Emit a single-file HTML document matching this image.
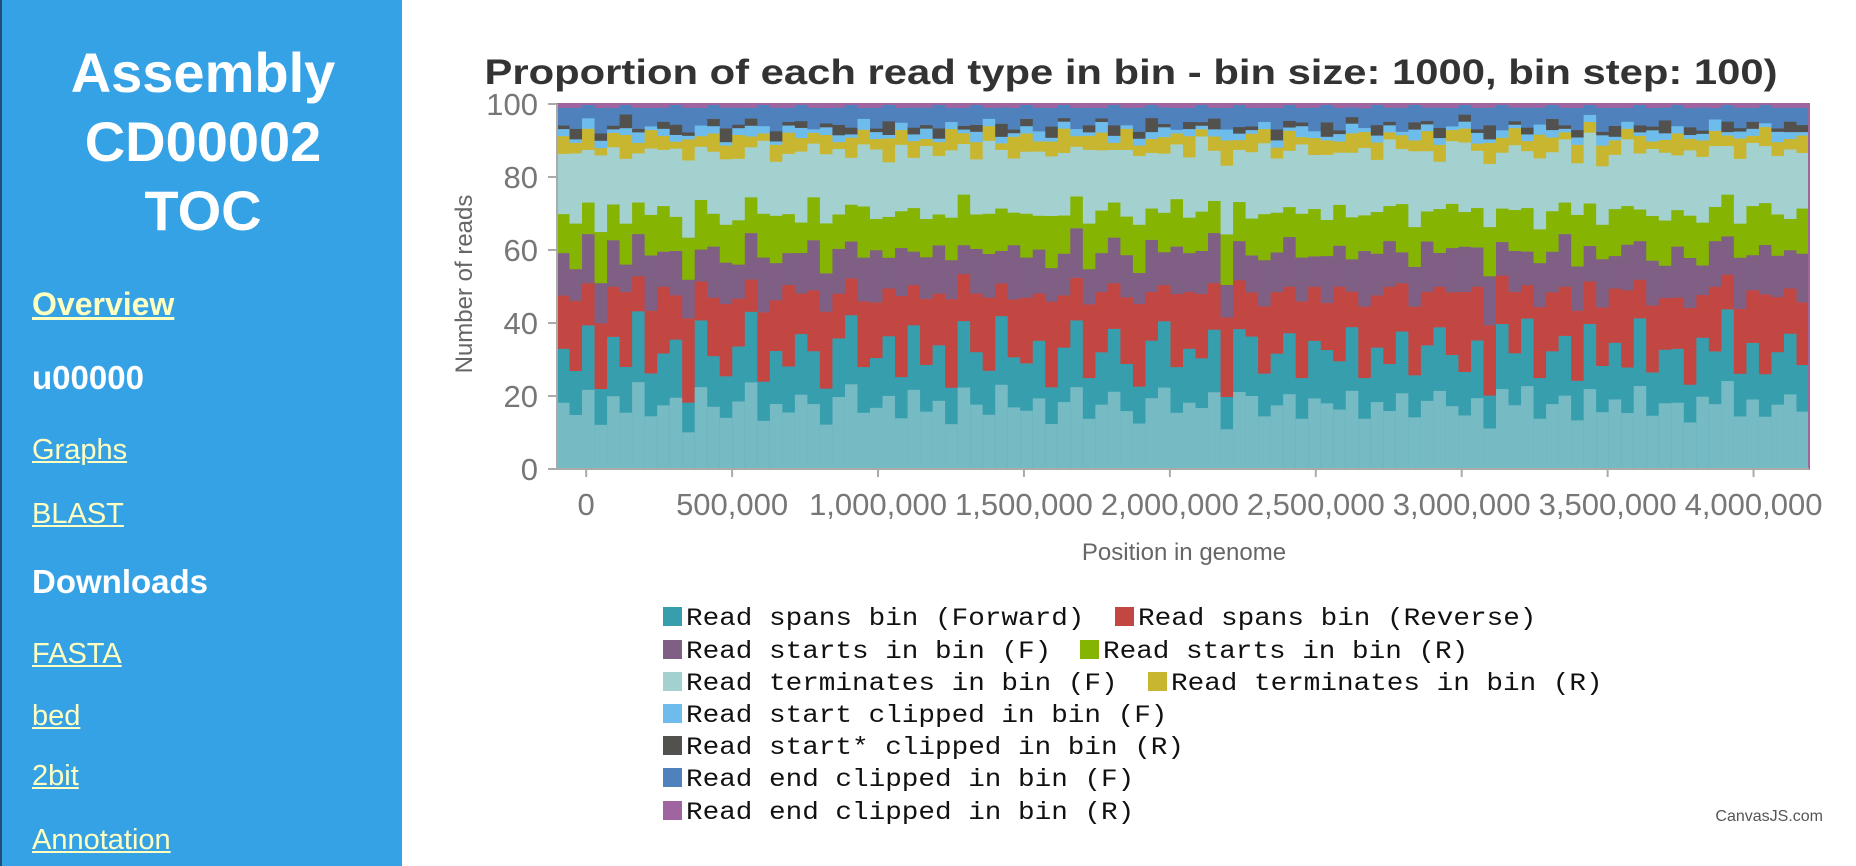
<!DOCTYPE html>
<html><head><meta charset="utf-8"><style>
html,body{margin:0;padding:0;width:1856px;height:866px;overflow:hidden;background:#fff;font-family:"Liberation Sans",sans-serif}
#side{position:absolute;left:0;top:0;width:402px;height:866px;background:#36a2e6;border-left:2px solid #1f4f78;box-sizing:border-box}
#side h1{margin:0;position:absolute;top:38px;left:0;width:402px;text-align:center;color:#fff;font-size:56px;line-height:69px;font-weight:bold}
.nav{position:absolute;left:30px;font-size:29px;color:#ffffc0;text-decoration:underline}
.hd{position:absolute;left:30px;font-size:33px;color:#fff;font-weight:bold}
svg{position:absolute;left:0;top:0}
</style></head><body>
<div id="side">
<h1>Assembly<br>CD00002<br>TOC</h1>
<a class="nav" style="top:286px;font-weight:bold;font-size:32px">Overview</a>
<div class="hd" style="top:359px">u00000</div>
<a class="nav" style="top:434px">Graphs</a>
<a class="nav" style="top:498px">BLAST</a>
<div class="hd" style="top:563px">Downloads</div>
<a class="nav" style="top:638px">FASTA</a>
<a class="nav" style="top:700px">bed</a>
<a class="nav" style="top:760px">2bit</a>
<a class="nav" style="top:824px">Annotation</a>
</div>
<svg id="chart" width="1856" height="866" xmlns="http://www.w3.org/2000/svg"></svg>
<script>
const spansF=[34,28,41,22,37,30,45,26,33,38,19,42,31,27,36,44,24,35,29,40,33,21,38,46,28,32,39,25,43,30,36,23,41,34,27,47,31,29,38,22,35,42,26,33,40,30,24,37,45,28,34,31,39,20,43,36,27,32,41,25,38,33,29,44,23,35,30,40,26,37,42,31,28,36,21,39,34,45,27,32,38,24,41,30,35,29,43,26,37,33,22,40,31,46,28,36,25,34,39,30];
const spansR=[15,20,12,18,14,22,10,17,19,13,24,11,16,21,14,9,19,15,23,12,17,20,13,11,18,16,14,22,12,19,15,25,13,17,20,10,16,18,14,23,15,12,21,17,13,19,24,14,11,20,16,18,13,22,15,12,19,17,14,21,16,13,20,11,18,15,22,14,19,16,12,17,23,15,20,13,18,10,21,16,14,19,12,17,15,22,11,18,16,14,20,13,17,10,19,15,21,16,13,18];
const startsF=[12,9,14,11,13,8,12,15,10,13,11,9,14,12,10,13,15,11,9,12,14,10,13,11,12,15,9,13,10,12,14,11,8,13,12,10,15,11,13,9,12,14,10,11,13,12,9,15,10,13,11,12,14,9,12,10,13,11,15,12,9,13,11,10,14,12,13,9,11,15,10,12,13,11,14,9,12,10,13,11,15,12,10,14,9,13,11,12,10,14,13,9,12,11,15,10,13,12,11,14];
const startsR=[11,13,9,14,10,12,9,11,13,10,12,14,9,11,13,10,12,14,11,9,12,13,10,11,14,9,12,10,13,11,9,12,14,10,11,13,9,12,10,14,11,9,13,12,10,11,14,9,12,13,10,11,9,14,12,10,13,11,9,12,14,10,11,13,9,12,10,14,11,9,13,12,10,11,14,9,12,13,10,11,9,14,12,10,13,11,9,12,14,10,11,13,9,12,10,14,11,12,9,13];
const termF=[17,20,15,21,16,19,14,18,16,20,22,15,17,19,18,14,20,16,17,21,15,18,19,14,17,20,16,18,15,21,17,19,14,16,20,18,15,17,19,16,18,14,21,17,15,19,20,16,18,15,17,21,14,19,16,18,20,15,17,19,16,18,14,20,17,15,19,16,21,18,14,17,20,16,18,15,19,17,21,16,18,14,20,17,15,19,16,18,21,15,17,20,16,14,19,18,15,17,20,16];
const termR=[5,3,6,2,4,7,3,5,4,2,6,3,5,4,7,3,2,5,6,4,3,5,2,6,4,3,7,4,5,2,4,6,3,5,4,2,6,5,3,4,7,3,4,5,2,6,3,4,5,3,6,2,4,7,3,5,4,3,6,2,5,4,3,6,4,5,2,4,3,6,5,3,4,2,6,4,5,3,7,4,2,5,3,6,4,3,5,2,4,6,3,5,4,3,6,2,5,4,3,5];
const clipStartF=[2,1,3,2,1,2,3,1,2,2,1,3,2,1,2,3,2,1,2,3,1,2,2,1,3,2,1,2,2,3,1,2,1,3,2,2,1,2,3,1,2,2,1,3,2,1,2,2,3,1,2,1,2,3,2,1,2,2,1,3,2,1,2,3,1,2,2,1,3,2,2,1,2,3,1,2,1,2,3,2,1,2,2,3,1,2,1,3,2,2,1,2,3,1,2,2,1,3,2,1];
const clipStartR=[1,3,0,2,1,4,1,0,2,3,1,0,2,4,1,2,0,3,1,2,0,1,3,2,0,1,4,0,2,1,3,0,1,2,0,4,1,2,0,3,1,0,2,1,3,0,2,4,1,0,2,1,3,0,2,1,0,3,2,1,0,4,1,2,0,3,1,0,2,1,3,0,2,1,4,0,1,2,0,3,1,2,0,1,3,0,2,1,4,0,2,1,0,3,1,2,0,1,3,2];
const clipEndF=[5,6,4,7,5,3,6,5,4,6,7,5,4,6,5,3,6,7,4,5,6,4,5,7,3,6,5,4,6,5,7,4,5,6,3,5,6,4,7,5,4,6,5,3,6,5,7,4,5,6,4,5,3,6,7,5,4,6,5,4,7,5,6,3,5,6,4,7,5,4,6,5,3,6,5,7,4,6,5,4,5,6,3,7,5,4,6,5,4,6,5,7,3,5,6,4,5,6,4,5];
const clipEndR=[1,1,0,1,1,0,1,1,1,0,1,1,0,1,1,1,0,1,1,0,1,1,1,0,1,1,0,1,1,1,0,1,1,0,1,1,1,0,1,1,0,1,1,1,0,1,1,0,1,1,1,0,1,1,0,1,1,1,0,1,1,0,1,1,1,0,1,1,0,1,1,1,0,1,1,0,1,1,1,0,1,1,0,1,1,1,0,1,1,0,1,1,1,0,1,1,0,1,1,1];
const seriesNames=["Read spans bin (Forward)","Read spans bin (Reverse)","Read starts in bin (F)","Read starts in bin (R)","Read terminates in bin (F)","Read terminates in bin (R)","Read start clipped in bin (F)","Read start* clipped in bin (R)","Read end clipped in bin (F)","Read end clipped in bin (R)"];
const yTicks=[0,20,40,60,80,100];
const xTicks=[0,500000,1000000,1500000,2000000,2500000,3000000,3500000,4000000];
const xTickLabels=["0","500,000","1,000,000","1,500,000","2,000,000","2,500,000","3,000,000","3,500,000","4,000,000"];
const binStart=-100000, binEnd=4190000;

const colors=["#369EAD","#C24642","#7F6084","#86B402","#A2D1CF","#C8B631","#6DBCEB","#52514E","#4F81BC","#A064A1"];
const series=[spansF,spansR,startsF,startsR,termF,termR,clipStartF,clipStartR,clipEndF,clipEndR];
const NS="http://www.w3.org/2000/svg";
const svg=document.getElementById('chart');
const PL=557,PR=1809,PT=104,PB=469;
const xS=v=>PL+(v-binStart)/(binEnd-binStart)*(PR-PL);
const yS=v=>PB-v/100*(PB-PT);
function mk(tag,attrs,txt){const e=document.createElementNS(NS,tag);for(const k in attrs)e.setAttribute(k,attrs[k]);if(txt!==undefined)e.textContent=txt;svg.appendChild(e);return e;}
const t=mk('text',{x:1131,y:84,'text-anchor':'middle','font-size':35,'font-weight':'bold',fill:'#333',textLength:1293,lengthAdjust:'spacingAndGlyphs'},"Proportion of each read type in bin - bin size: 1000, bin step: 100)");


const N=spansF.length;
const step=(binEnd-binStart)/N;
for(let i=0;i<N;i++){
  let tot=0;series.forEach(s=>tot+=(s[i]||0));
  let acc=0;
  const x0=xS(binStart+i*step),x1=xS(binStart+(i+1)*step);
  series.forEach((s,k)=>{
    const v=(s[i]||0)/tot*100;
    if(v<=0)return;
    const r=mk('rect',{x:x0,y:yS(acc+v),width:x1-x0+0.5,height:yS(acc)-yS(acc+v)+0.3,fill:colors[k]});
    
    
    if(k===0){
      const lt=mk('rect',{x:x0,y:yS(acc+v*0.55),width:x1-x0+0.5,height:yS(acc)-yS(acc+v*0.55),fill:'#76bac4'});
      
      
    }
    acc+=v;
  });
}
mk('rect',{x:PL,y:PT,width:PR-PL,height:PB-PT,fill:'none',stroke:'#a064a1','stroke-width':2});
mk('line',{x1:PL,y1:PT,x2:PL,y2:PB,stroke:'#aaa','stroke-width':2});
mk('line',{x1:PL,y1:PB,x2:PR,y2:PB,stroke:'#aaa','stroke-width':2});
yTicks.forEach(v=>{
  mk('line',{x1:PL-9,y1:yS(v),x2:PL,y2:yS(v),stroke:'#aaa','stroke-width':2});
  const l=mk('text',{x:538,y:yS(v)+11,'text-anchor':'end','font-size':31,fill:'#777'},String(v));
  
  
});
xTicks.forEach((v,i)=>{
  mk('line',{x1:xS(v),y1:PB,x2:xS(v),y2:PB+8,stroke:'#aaa','stroke-width':2});
  const l=mk('text',{x:xS(v),y:515,'text-anchor':'middle','font-size':31,fill:'#777'},xTickLabels[i]);
  
  
});
const xt=mk('text',{x:1184,y:560,'text-anchor':'middle','font-size':24,fill:'#666'},"Position in genome");


const yt=mk('text',{x:0,y:0,'text-anchor':'middle','font-size':24,fill:'#666',transform:'translate(472,284) rotate(-90)'},"Number of reads");


const legPos=[[663,617],[1115,617],[663,650],[1080,650],[663,682],[1148,682],[663,714],[663,746],[663,778],[663,811]];
seriesNames.forEach((n,k)=>{
  const [lx,ly]=legPos[k];
  const g=document.createElementNS(NS,'g');
  
  
  svg.appendChild(g);
  const b=document.createElementNS(NS,'rect');
  b.setAttribute('x',lx);b.setAttribute('y',ly-10);b.setAttribute('width',19);b.setAttribute('height',19);b.setAttribute('fill',colors[k]);
  g.appendChild(b);
  const tx=document.createElementNS(NS,'text');
  tx.setAttribute('x',lx+23);tx.setAttribute('y',ly+8);tx.setAttribute('font-size',25);
  tx.setAttribute('font-family','"Liberation Mono",monospace');tx.setAttribute('fill','#111');
  tx.setAttribute('textLength',n.length*16.6);tx.setAttribute('lengthAdjust','spacingAndGlyphs');
  tx.textContent=n;g.appendChild(tx);
});
const cj=mk('text',{x:1823,y:821,'text-anchor':'end','font-size':16,fill:'#555'},"CanvasJS.com");


</script>
</body></html>
